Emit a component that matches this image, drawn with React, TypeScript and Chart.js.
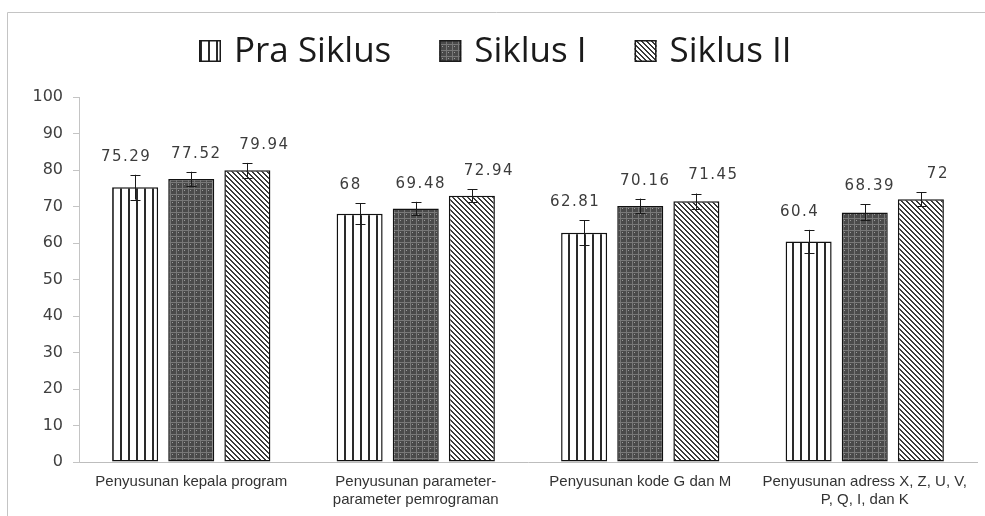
import React, { useEffect, useRef } from "react";
import { Chart, registerables } from "chart.js";

Chart.register(...registerables);

const categories: string[][] = [
  ["Penyusunan kepala program"],
  ["Penyusunan parameter-", "parameter pemrograman"],
  ["Penyusunan kode G dan M"],
  ["Penyusunan adress X, Z, U, V,", "P, Q, I, dan K"],
];
const seriesNames = ["Pra Siklus", "Siklus I", "Siklus II"];
const praSiklus = [75.29, 68, 62.81, 60.4];
const siklusI = [77.52, 69.48, 70.16, 68.39];
const siklusII = [79.94, 72.94, 71.45, 72];
const praSiklusErr = [3.4, 2.9, 3.4, 3.2];
const siklusIErr = [2.0, 1.8, 2.0, 2.2];
const siklusIIErr = [2.0, 1.8, 2.1, 1.9];
const yMin = 0;
const yMax = 100;
const yStep = 10;

function makePattern(kind: string): CanvasPattern | string {
  const c = document.createElement("canvas");
  const size = kind === "vert" ? 8 : kind === "grid" ? 6 : 5;
  c.width = size;
  c.height = size;
  const g = c.getContext("2d")!;
  if (kind === "vert") {
    g.fillStyle = "#ffffff";
    g.fillRect(0, 0, size, size);
    g.fillStyle = "#2a2a2a";
    g.fillRect(0, 0, 2, size);
  } else if (kind === "grid") {
    g.fillStyle = "#4a4a4a";
    g.fillRect(0, 0, size, size);
    g.fillStyle = "#787878";
    g.fillRect(0, 2, size, 1);
    g.fillRect(2, 0, 1, size);
    g.fillStyle = "#9a9a9a";
    g.fillRect(4, 4, 1, 1);
  } else {
    g.fillStyle = "#ffffff";
    g.fillRect(0, 0, size, size);
    g.fillStyle = "#3a3a3a";
    for (let y = 0; y < size; y++) {
      for (let x = 0; x < size; x++) {
        if ((x - y + size * 2) % size < 2) g.fillRect(x, y, 1, 1);
      }
    }
  }
  return g.createPattern(c, "repeat") || "#888";
}

const labelShift = [-9, 5, 17];

const framePlugin = {
  id: "frame",
  beforeDraw(chart: any) {
    const ctx = chart.ctx;
    ctx.save();
    ctx.fillStyle = "#ffffff";
    ctx.fillRect(0, 0, chart.width, chart.height);
    ctx.strokeStyle = "#c4c4c4";
    ctx.lineWidth = 1;
    ctx.beginPath();
    ctx.moveTo(7.5, chart.height);
    ctx.lineTo(7.5, 12.5);
    ctx.lineTo(chart.width, 12.5);
    ctx.stroke();
    ctx.restore();
  },
};

const errorBarsPlugin = {
  id: "errorBarsLabels",
  afterDatasetsDraw(chart: any) {
    const ctx = chart.ctx;
    const yScale = chart.scales.y;
    chart.data.datasets.forEach((ds: any, di: number) => {
      const meta = chart.getDatasetMeta(di);
      meta.data.forEach((bar: any, i: number) => {
        const v = ds.data[i];
        const e = ds.errors[i];
        const top = yScale.getPixelForValue(v + e);
        const bot = yScale.getPixelForValue(v - e);
        const x = Math.round(bar.x) + 0.5;
        ctx.save();
        ctx.strokeStyle = "#1a1a1a";
        ctx.lineWidth = 1;
        ctx.beginPath();
        ctx.moveTo(x, top);
        ctx.lineTo(x, bot);
        ctx.moveTo(x - 5, Math.round(top) + 0.5);
        ctx.lineTo(x + 5, Math.round(top) + 0.5);
        ctx.moveTo(x - 5, Math.round(bot) + 0.5);
        ctx.lineTo(x + 5, Math.round(bot) + 0.5);
        ctx.stroke();
        ctx.fillStyle = "#3c3c3c";
        ctx.font = "15px 'DejaVu Sans'";
        (ctx as any).letterSpacing = "1.5px";
        ctx.textAlign = "center";
        ctx.textBaseline = "middle";
        ctx.fillText(String(v), bar.x + labelShift[di], top - 18);
        ctx.restore();
      });
    });
  },
};

const legendPlugin = {
  id: "customLegend",
  afterDraw(chart: any) {
    const ctx = chart.ctx;
    ctx.save();
    ctx.font = "35px 'Open Sans'";
    ctx.textBaseline = "alphabetic";
    ctx.textAlign = "left";
    const icon = 22;
    const gap = 13;
    const itemGap = 48;
    let x = 199;
    const baseline = 62;
    chart.data.datasets.forEach((ds: any) => {
      ctx.fillStyle = ds.backgroundColor;
      ctx.fillRect(x, baseline - icon, icon, icon);
      ctx.strokeStyle = "#1a1a1a";
      ctx.lineWidth = 1.5;
      ctx.strokeRect(x + 0.75, baseline - icon + 0.75, icon - 1.5, icon - 1.5);
      ctx.fillStyle = "#1a1a1a";
      const tx = x + icon + gap;
      ctx.fillText(ds.label, tx, baseline);
      x = tx + ctx.measureText(ds.label).width + itemGap;
    });
    ctx.restore();
  },
};

export default function App() {
  const ref = useRef<HTMLCanvasElement | null>(null);

  useEffect(() => {
    if (!ref.current) return;
    const patterns = [makePattern("vert"), makePattern("grid"), makePattern("diag")];
    const values = [praSiklus, siklusI, siklusII];
    const errs = [praSiklusErr, siklusIErr, siklusIIErr];
    const chart = new Chart(ref.current, {
      type: "bar",
      data: {
        labels: categories,
        datasets: seriesNames.map((name, i) => ({
          label: name,
          data: values[i],
          errors: errs[i],
          backgroundColor: patterns[i],
          borderColor: "#111111",
          borderWidth: 1.5,
          borderSkipped: false,
          categoryPercentage: 0.75,
          barPercentage: 0.82,
        })) as any,
      },
      options: {
        responsive: false,
        devicePixelRatio: 1,
        animation: false,
        layout: { padding: { top: 97, right: 8, left: 0, bottom: 0 } },
        plugins: {
          legend: { display: false },
          tooltip: { enabled: false },
        },
        scales: {
          x: {
            afterFit: (scale: any) => {
              scale.height = 54;
            },
            grid: { display: false, drawTicks: false },
            border: { display: true, color: "#bdbdbd", width: 1 },
            ticks: {
              color: "#333333",
              font: { family: "'Liberation Sans', Arial, sans-serif", size: 15 },
              padding: 11,
              maxRotation: 0,
              autoSkip: false,
            },
          },
          y: {
            min: yMin,
            max: yMax,
            afterFit: (scale: any) => {
              scale.width = 79;
            },
            grid: {
              display: true,
              drawOnChartArea: false,
              drawTicks: true,
              tickLength: 6,
              color: "#c4c4c4",
            },
            border: { display: true, color: "#c4c4c4", width: 1 },
            ticks: {
              stepSize: yStep,
              color: "#404040",
              font: { family: "'DejaVu Sans', sans-serif", size: 16 },
              padding: 10,
            },
          },
        },
      } as any,
      plugins: [framePlugin, errorBarsPlugin, legendPlugin],
    });
    return () => chart.destroy();
  }, []);

  return (
    <div style={{ position: "absolute", left: 0, top: 0, width: 985, height: 516, overflow: "hidden" }}>
      <canvas ref={ref} width={985} height={516} style={{ display: "block", width: 985, height: 516 }} />
    </div>
  );
}
